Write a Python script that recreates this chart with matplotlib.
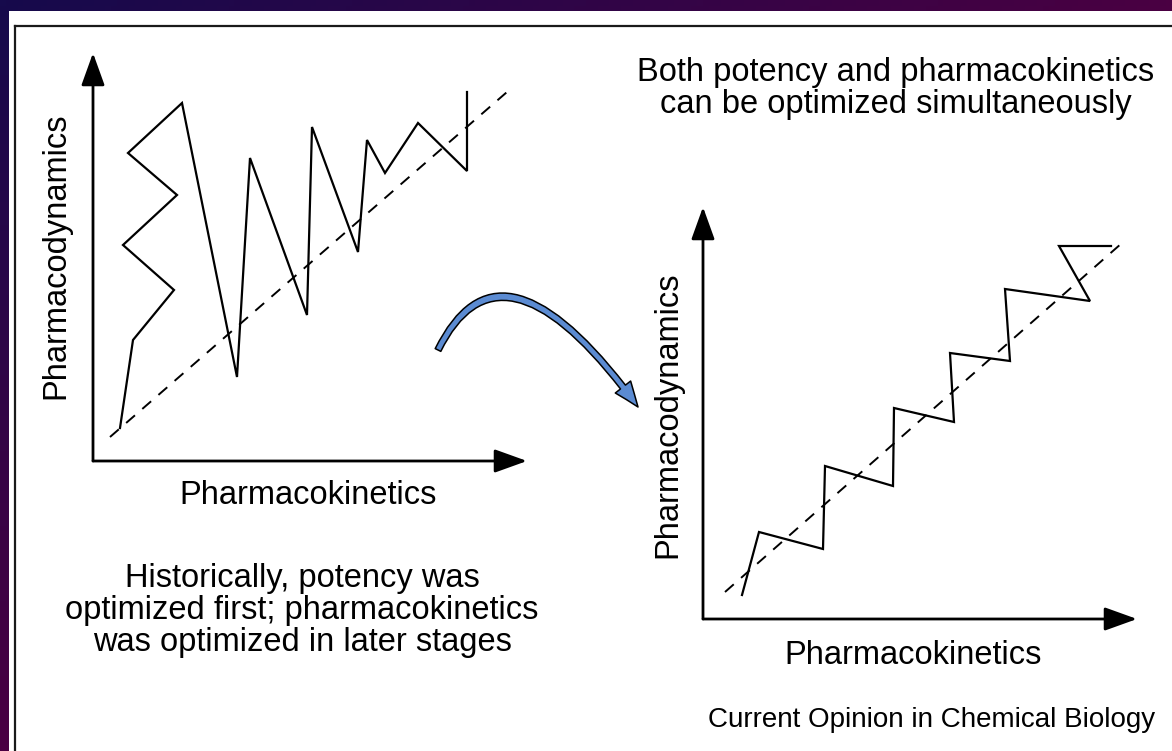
import matplotlib
matplotlib.use('Agg')
import matplotlib.pyplot as plt
import numpy as np
from matplotlib.patches import Rectangle, FancyArrowPatch
from matplotlib.path import Path
from matplotlib.colors import to_rgb

plt.rcParams['font.family'] = ['Liberation Sans', 'DejaVu Sans']

W, H = 1172, 751

# left diagram (potency first, PK later) - units from the axis corner
left_x = [2.7, 4.0, 8.1, 3.0, 8.4, 3.5, 8.9, 14.4, 15.7, 21.4, 21.9, 26.5, 27.4, 29.2, 32.5, 37.4, 37.4]
left_y = [3.3, 12.1, 17.1, 21.6, 26.6, 30.8, 35.8, 8.4, 30.3, 14.6, 33.4, 20.9, 32.1, 28.8, 33.8, 29.0, 36.9]
left_trend_x = [1.7, 41.4]
left_trend_y = [2.4, 36.9]

# right diagram (both optimized together)
right_x = [3.9, 5.6, 12.0, 12.2, 19.0, 19.1, 25.1, 24.7, 30.7, 30.2, 38.7, 35.6, 40.8]
right_y = [2.4, 8.7, 7.0, 15.3, 13.3, 21.1, 19.7, 26.6, 25.8, 33.0, 31.8, 37.3, 37.3]
right_trend_x = [2.2, 41.9]
right_trend_y = [2.7, 37.6]

x_label = 'Pharmacokinetics'
y_label = 'Pharmacodynamics'
left_note = ['Historically, potency was',
             'optimized first; pharmacokinetics',
             'was optimized in later stages']
right_note = ['Both potency and pharmacokinetics',
              'can be optimized simultaneously']
source = 'Current Opinion in Chemical Biology'

fig = plt.figure(figsize=(W / 100, H / 100), dpi=100)

# background: dark gradient frame + white slide
bg = fig.add_axes([0, 0, 1, 1])
bg.set_xlim(0, W)
bg.set_ylim(H, 0)
bg.axis('off')
c0 = np.array(to_rgb('#160a4c'))
c1 = np.array(to_rgb('#4a0042'))
xx, yy = np.meshgrid(np.linspace(0, 1, 200), np.linspace(0, 1, 130))
t = np.clip(xx + yy, 0, 1)[..., None]
grad = c0 * (1 - t) + c1 * t
bg.imshow(grad, extent=[0, W, H, 0], aspect='auto', zorder=0)
bg.add_patch(Rectangle((9, 11), W, H, facecolor='white', edgecolor='none', zorder=1))
bg.plot([15, W + 5], [26, 26], color='#1a1a1a', lw=1.6, zorder=2)
bg.plot([15, 15], [26, H + 5], color='#1a1a1a', lw=1.6, zorder=2)

# texts
fs = 23.5
bg.text(56, 256, y_label, rotation=90, ha='center', va='center', fontsize=fs, zorder=3)
bg.text(308, 495, x_label, ha='center', va='center', fontsize=fs, zorder=3)
for i, line in enumerate(left_note):
    bg.text(302, 578 + i * 32, line, ha='center', va='center', fontsize=fs, zorder=3)
for i, line in enumerate(right_note):
    bg.text(896, 73 + i * 32, line, ha='center', va='center', fontsize=fs, zorder=3)
bg.text(668, 415, y_label, rotation=90, ha='center', va='center', fontsize=fs, zorder=3)
bg.text(913, 655, x_label, ha='center', va='center', fontsize=fs, zorder=3)
bg.text(932, 720, source, ha='center', va='center', fontsize=20, zorder=3)

# blue curved arrow between the two panels
arc = Path([(438, 350), (502, 220), (638, 407)], [Path.MOVETO, Path.CURVE3, Path.CURVE3])
blue = FancyArrowPatch(path=arc, arrowstyle='simple,head_length=1.8,head_width=1.4,tail_width=0.45',
                       mutation_scale=10, facecolor='#5b8bd2', edgecolor='black', lw=1.1, zorder=4)
bg.add_patch(blue)


def draw_panel(rect, xmax, ymax, xs, ys, tx, ty):
    ax = fig.add_axes(rect)
    ax.set_xlim(0, xmax)
    ax.set_ylim(0, ymax)
    ax.axis('off')
    ax.patch.set_alpha(0)
    ap = dict(arrowstyle='-|>,head_length=1.0,head_width=0.36', color='black', lw=2,
              shrinkA=0, shrinkB=0, mutation_scale=20)
    ax.annotate('', xy=(xmax, 0), xytext=(0, 0), arrowprops=ap, annotation_clip=False)
    ax.annotate('', xy=(0, ymax), xytext=(0, 0), arrowprops=ap, annotation_clip=False)
    ax.plot(tx, ty, color='black', lw=1.4, dashes=(6, 5), clip_on=False)
    ax.plot(xs, ys, color='black', lw=1.6, solid_joinstyle='miter', clip_on=False)
    return ax


draw_panel([93 / W, (H - 461) / H, (527 - 93) / W, (461 - 53) / H], 43.4, 40.8,
           left_x, left_y, left_trend_x, left_trend_y)
draw_panel([703 / W, (H - 619) / H, (1137 - 703) / W, (619 - 207) / H], 43.4, 41.2,
           right_x, right_y, right_trend_x, right_trend_y)

fig.savefig('out.png', dpi=100)
